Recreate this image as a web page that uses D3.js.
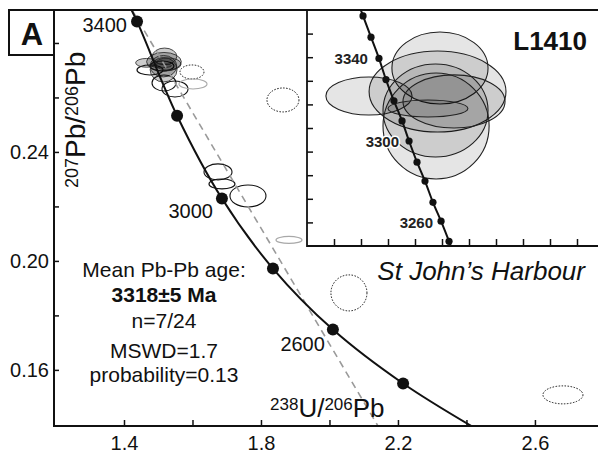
<!DOCTYPE html>
<html>
<head>
<meta charset="utf-8">
<script src="https://cdn.jsdelivr.net/npm/d3@7"></script>
<style>
    body { margin: 0; background: #fff; }
    svg { display: block; font-family: "Liberation Sans", Arial, sans-serif; }
</style>
</head>
<body>
<div id="chart"></div>
<script>
// ---- axis ticks ----
const xTicks = [1.4, 1.6, 1.8, 2.0, 2.2, 2.4, 2.6];
const xTickLabels = [1.4, 1.8, 2.2, 2.6];
const yTicks = [0.16, 0.18, 0.20, 0.22, 0.24, 0.26, 0.28];
const yTickLabels = [0.16, 0.20, 0.24];
const insetXTicks = [1.44, 1.46, 1.48, 1.50, 1.52, 1.54, 1.56, 1.58, 1.60, 1.62];
const insetYTicks = [0.262, 0.264, 0.266, 0.268, 0.270, 0.272, 0.274, 0.276, 0.278];

// ---- concordia (main plot); first/last points only run the curve out of the frame ----
const concAges = [3450, 3400, 3200, 3000, 2800, 2600, 2400, 2200];
const concX = [1.404, 1.438, 1.555, 1.686, 1.835, 2.010, 2.215, 2.440];
const concY = [0.2965, 0.2879, 0.2533, 0.2229, 0.1972, 0.1748, 0.1550, 0.1375];
const concMarked = [3400, 3200, 3000, 2800, 2600, 2400];
const concLabelled = [3400, 3000, 2600];

// ---- concordia (inset), 10 Ma steps ----
const insetAges = [3370, 3360, 3350, 3340, 3330, 3320, 3310, 3300, 3290, 3280, 3270, 3260, 3250, 3240];
const insetX = [1.4556, 1.4615, 1.4674, 1.4733, 1.4785, 1.4844, 1.4904, 1.4956, 1.5015, 1.5074, 1.5133, 1.5193, 1.5252, 1.5310];
const insetY = [0.2813, 0.2795, 0.2777, 0.2759, 0.2741, 0.2723, 0.2706, 0.2689, 0.2671, 0.2655, 0.2637, 0.2621, 0.2604, 0.2587];
const insetMarked = [3360, 3350, 3340, 3330, 3320, 3310, 3300, 3290, 3280, 3270, 3260, 3250];
const insetLabelled = [3340, 3300, 3260];

// ---- discordia / regression line (dashed) ----
const discX = [1.4234, 2.1416];
const discY = [0.2921, 0.1394];

// ---- the 7 analyses used for the mean age (grey ellipses): centre and half-axes ----
const meanCx = [1.5185, 1.5167, 1.5152, 1.5156, 1.4659, 1.5289, 1.5096];
const meanCy = [0.27508, 0.27309, 0.27148, 0.27017, 0.27271, 0.27225, 0.27165];
const meanSx = [0.0356, 0.0507, 0.0389, 0.0393, 0.0319, 0.0378, 0.0296];
const meanSy = [0.00305, 0.00343, 0.00394, 0.00449, 0.00161, 0.00225, 0.00072];

// ---- other analyses (open, dotted, faint) ----
const otherCx = [1.4759, 1.5168, 1.5489, 1.5109, 1.6745, 1.6861, 1.7620, 1.5985, 1.8642, 2.0569, 2.6818, 1.6015, 1.8818];
const otherCy = [0.27009, 0.26532, 0.26312, 0.27156, 0.23266, 0.22826, 0.22385, 0.26936, 0.25908, 0.18826, 0.15083, 0.26495, 0.20771];
const otherSx = [0.0380, 0.0350, 0.0380, 0.0350, 0.0409, 0.0380, 0.0526, 0.0350, 0.0467, 0.0526, 0.0584, 0.0409, 0.0380];
const otherSy = [0.00183, 0.00294, 0.00294, 0.00183, 0.00294, 0.00183, 0.00404, 0.00257, 0.00440, 0.00661, 0.00330, 0.00183, 0.00128];
const otherType = ["open", "open", "open", "open", "open", "open", "open", "dotted", "dotted", "dotted", "dotted", "faint", "faint"];

// ---- text ----
const statLines = ["Mean Pb-Pb age:", "3318±5 Ma", "n=7/24", "MSWD=1.7", "probability=0.13"];
const statBold = [false, true, false, false, false];
const statBaselines = [277, 302, 328, 358, 382];
const panelLetter = "A";
const sampleName = "L1410";
const localityName = "St John’s Harbour";

// ---- layout ----
const width = 598, height = 461;
const frame = { left: 54, top: 10, right: 600, bottom: 426 };
const insetFrame = { left: 307, top: 10, right: 604, bottom: 246 };

const svg = d3.select("#chart").append("svg")
    .attr("width", width)
    .attr("height", height);

const x = d3.scaleLinear().domain([1.1956, 2.79]).range([frame.left, frame.right]);
const y = d3.scaleLinear().domain([0.1394, 0.2921]).range([frame.bottom, frame.top]);
const ix = d3.scaleLinear().domain([1.42, 1.64]).range([insetFrame.left, insetFrame.right]);
const iy = d3.scaleLinear().domain([0.26, 0.28]).range([insetFrame.bottom, insetFrame.top]);

const defs = svg.append("defs");
defs.append("clipPath").attr("id", "clip-main")
    .append("rect")
    .attr("x", frame.left).attr("y", frame.top)
    .attr("width", frame.right - frame.left).attr("height", frame.bottom - frame.top);
defs.append("clipPath").attr("id", "clip-inset")
    .append("rect")
    .attr("x", insetFrame.left).attr("y", insetFrame.top)
    .attr("width", insetFrame.right - insetFrame.left).attr("height", insetFrame.bottom - insetFrame.top);

const mainG = svg.append("g").attr("clip-path", "url(#clip-main)");

// other analyses
const others = otherCx.map((cx, i) => ({ cx, cy: otherCy[i], sx: otherSx[i], sy: otherSy[i], type: otherType[i] }));
mainG.selectAll(".other")
    .data(others)
    .join("ellipse")
    .attr("class", "other")
    .attr("cx", d => x(d.cx))
    .attr("cy", d => y(d.cy))
    .attr("rx", d => x(d.cx + d.sx) - x(d.cx))
    .attr("ry", d => y(d.cy) - y(d.cy + d.sy))
    .attr("fill", "none")
    .attr("stroke", d => d.type === "faint" ? "#a8a8a8" : "#111")
    .attr("stroke-width", d => d.type === "dotted" ? 1 : 1.1)
    .attr("stroke-dasharray", d => d.type === "dotted" ? "1.5,1.5" : null);

// mean-age analyses
const means = meanCx.map((cx, i) => ({ cx, cy: meanCy[i], sx: meanSx[i], sy: meanSy[i] }));
mainG.selectAll(".mean")
    .data(means)
    .join("ellipse")
    .attr("class", "mean")
    .attr("cx", d => x(d.cx))
    .attr("cy", d => y(d.cy))
    .attr("rx", d => x(d.cx + d.sx) - x(d.cx))
    .attr("ry", d => y(d.cy) - y(d.cy + d.sy))
    .attr("fill", "#000")
    .attr("fill-opacity", 0.2)
    .attr("stroke", "#222")
    .attr("stroke-width", 0.8);

// dashed regression
const line = d3.line().x(d => x(d[0])).y(d => y(d[1]));
mainG.append("path")
    .datum(discX.map((v, i) => [v, discY[i]]))
    .attr("d", line)
    .attr("fill", "none")
    .attr("stroke", "#9a9a9a")
    .attr("stroke-width", 1.6)
    .attr("stroke-dasharray", "7,5");

// concordia
const conc = concAges.map((a, i) => ({ age: a, x: concX[i], y: concY[i] }));
const curve = d3.line().x(d => x(d.x)).y(d => y(d.y)).curve(d3.curveCatmullRom);
mainG.append("path")
    .datum(conc)
    .attr("d", curve)
    .attr("fill", "none")
    .attr("stroke", "#111")
    .attr("stroke-width", 2);

mainG.selectAll(".age-dot")
    .data(conc.filter(d => concMarked.includes(d.age)))
    .join("circle")
    .attr("class", "age-dot")
    .attr("cx", d => x(d.x))
    .attr("cy", d => y(d.y))
    .attr("r", 6)
    .attr("fill", "#111");

const ageLabelOffset = { 3400: [-10, 11], 3000: [-9, 19], 2600: [-8, 21] };
svg.selectAll(".age-label")
    .data(conc.filter(d => concLabelled.includes(d.age)))
    .join("text")
    .attr("class", "age-label")
    .attr("x", d => x(d.x) + ageLabelOffset[d.age][0])
    .attr("y", d => y(d.y) + ageLabelOffset[d.age][1])
    .attr("text-anchor", "end")
    .style("font-size", "20px")
    .attr("fill", "#111")
    .text(d => d.age);

// stats text
svg.selectAll(".stat")
    .data(statLines)
    .join("text")
    .attr("class", "stat")
    .attr("x", 164)
    .attr("y", (d, i) => statBaselines[i])
    .attr("text-anchor", "middle")
    .style("font-size", "21px")
    .style("font-weight", (d, i) => statBold[i] ? "bold" : "normal")
    .attr("fill", "#111")
    .text(d => d);

svg.append("text")
    .attr("x", 585)
    .attr("y", 280)
    .attr("text-anchor", "end")
    .style("font-size", "26px")
    .style("font-style", "italic")
    .attr("fill", "#111")
    .text(localityName);

// main axes
const xAxis = d3.axisBottom(x)
    .tickValues(xTicks)
    .tickSize(-6)
    .tickPadding(10)
    .tickFormat(d => xTickLabels.includes(d) ? d3.format(".1f")(d) : "");
const xAxisG = svg.append("g")
    .attr("transform", `translate(0,${frame.bottom})`)
    .call(xAxis);

const yAxis = d3.axisLeft(y)
    .tickValues(yTicks)
    .tickSize(-5)
    .tickPadding(5)
    .tickFormat(d => yTickLabels.includes(d) ? d3.format(".2f")(d) : "");
const yAxisG = svg.append("g")
    .attr("transform", `translate(${frame.left},0)`)
    .call(yAxis);

[xAxisG, yAxisG].forEach(g => {
    g.select(".domain").remove();
    g.selectAll(".tick line").attr("stroke", "#111").attr("stroke-width", 1.5);
    g.selectAll(".tick text").attr("fill", "#111").style("font-size", "20px").style("font-family", "'Liberation Sans', Arial, sans-serif");
});

svg.append("path")
    .attr("d", `M${frame.right},${frame.top}H${frame.left}V${frame.bottom}H${frame.right}`)
    .attr("fill", "none")
    .attr("stroke", "#111")
    .attr("stroke-width", 2);

// axis titles
const xTitle = svg.append("text")
    .attr("x", 270)
    .attr("y", 417)
    .attr("fill", "#111");
xTitle.append("tspan").style("font-size", "17px").attr("dy", -7).text("238");
xTitle.append("tspan").style("font-size", "26px").attr("dy", 7).text("U/");
xTitle.append("tspan").style("font-size", "17px").attr("dy", -7).text("206");
xTitle.append("tspan").style("font-size", "26px").attr("dy", 7).text("Pb");

const yTitle = svg.append("text")
    .attr("transform", "translate(85,188) rotate(-90)")
    .attr("fill", "#111");
yTitle.append("tspan").style("font-size", "18px").attr("dy", -7).text("207");
yTitle.append("tspan").style("font-size", "28px").attr("dy", 7).text("Pb/");
yTitle.append("tspan").style("font-size", "18px").attr("dy", -7).text("206");
yTitle.append("tspan").style("font-size", "28px").attr("dy", 7).text("Pb");

// panel letter
svg.append("rect")
    .attr("x", 9).attr("y", 10)
    .attr("width", 45).attr("height", 45)
    .attr("fill", "#fff")
    .attr("stroke", "#111")
    .attr("stroke-width", 2);
svg.append("text")
    .attr("x", 32)
    .attr("y", 45)
    .attr("text-anchor", "middle")
    .style("font-size", "31px")
    .style("font-weight", "bold")
    .attr("fill", "#111")
    .text(panelLetter);

// ---- inset ----
svg.append("rect")
    .attr("x", insetFrame.left).attr("y", insetFrame.top)
    .attr("width", insetFrame.right - insetFrame.left)
    .attr("height", insetFrame.bottom - insetFrame.top)
    .attr("fill", "#fff");

const insetG = svg.append("g").attr("clip-path", "url(#clip-inset)");

insetG.selectAll(".mean")
    .data(means)
    .join("ellipse")
    .attr("class", "mean")
    .attr("cx", d => ix(d.cx))
    .attr("cy", d => iy(d.cy))
    .attr("rx", d => ix(d.cx + d.sx) - ix(d.cx))
    .attr("ry", d => iy(d.cy) - iy(d.cy + d.sy))
    .attr("fill", "#000")
    .attr("fill-opacity", 0.1)
    .attr("stroke", "#222")
    .attr("stroke-width", 1.1);

const insetConc = insetAges.map((a, i) => ({ age: a, x: insetX[i], y: insetY[i] }));
insetG.append("path")
    .datum(insetConc)
    .attr("d", d3.line().x(d => ix(d.x)).y(d => iy(d.y)).curve(d3.curveCatmullRom))
    .attr("fill", "none")
    .attr("stroke", "#111")
    .attr("stroke-width", 2);

insetG.selectAll(".age-dot")
    .data(insetConc.filter(d => insetMarked.includes(d.age)))
    .join("circle")
    .attr("class", "age-dot")
    .attr("cx", d => ix(d.x))
    .attr("cy", d => iy(d.y))
    .attr("r", 3.6)
    .attr("fill", "#111");

const insetLabelOffset = { 3340: [-11, 6], 3300: [-10, 6], 3260: [-8, 7] };
insetG.selectAll(".age-label")
    .data(insetConc.filter(d => insetLabelled.includes(d.age)))
    .join("text")
    .attr("class", "age-label")
    .attr("x", d => ix(d.x) + insetLabelOffset[d.age][0])
    .attr("y", d => iy(d.y) + insetLabelOffset[d.age][1])
    .attr("text-anchor", "end")
    .style("font-size", "15px")
    .style("font-weight", "bold")
    .attr("fill", "#222")
    .attr("stroke", "#fff")
    .attr("stroke-width", 3)
    .attr("paint-order", "stroke")
    .text(d => d.age);

svg.append("text")
    .attr("x", 587)
    .attr("y", 50)
    .attr("text-anchor", "end")
    .style("font-size", "26px")
    .style("font-weight", "bold")
    .attr("fill", "#111")
    .text(sampleName);

// inset ticks (inward, unlabelled)
const insetXAxis = d3.axisTop(ix).tickValues(insetXTicks).tickSize(7).tickFormat("");
svg.append("g")
    .attr("transform", `translate(0,${insetFrame.bottom})`)
    .call(insetXAxis)
    .call(g => g.select(".domain").remove());
const insetYAxis = d3.axisRight(iy).tickValues(insetYTicks).tickSize(6).tickFormat("");
svg.append("g")
    .attr("transform", `translate(${insetFrame.left},0)`)
    .call(insetYAxis)
    .call(g => g.select(".domain").remove());
svg.selectAll(".tick line").attr("stroke", "#111").attr("stroke-width", 1.5);

svg.append("path")
    .attr("d", `M${insetFrame.right},${insetFrame.bottom}H${insetFrame.left}V${insetFrame.top}H${insetFrame.right}`)
    .attr("fill", "none")
    .attr("stroke", "#111")
    .attr("stroke-width", 1.8);
</script>
</body>
</html>
